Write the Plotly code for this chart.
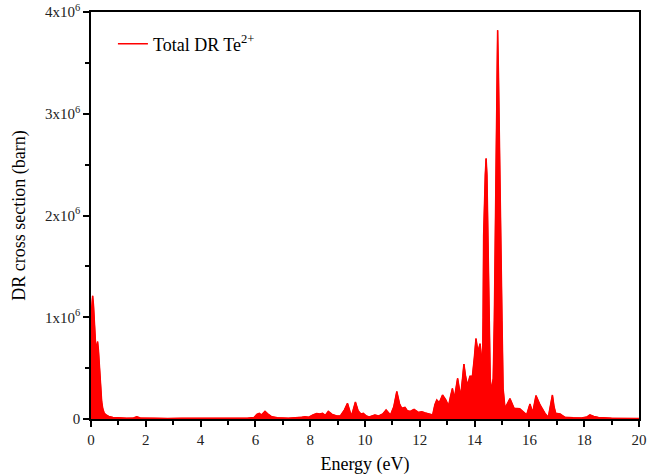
import plotly.graph_objects as go

# Energy (eV) and total DR cross section (units of 1e6 barn)
energy = [
    0.00, 0.03, 0.06, 0.09, 0.13, 0.17, 0.20, 0.24, 0.27, 0.31, 0.35, 0.39, 0.43, 0.48,
    0.55, 0.65, 0.80, 1.00, 1.30, 1.55, 1.67, 1.80, 2.20, 2.80, 3.30, 3.80, 4.30, 4.60,
    5.20, 5.70, 5.95, 6.05, 6.14, 6.22, 6.35, 6.45, 6.60, 6.80, 7.20, 7.50, 7.70, 7.81,
    7.95, 8.10, 8.24, 8.35, 8.45, 8.55, 8.66, 8.80, 8.97, 9.10, 9.25, 9.36, 9.45, 9.50,
    9.56, 9.65, 9.75, 9.85, 9.94, 10.05, 10.15, 10.36, 10.50, 10.65, 10.77, 10.85, 10.93,
    11.05, 11.16, 11.26, 11.34, 11.46, 11.55, 11.65, 11.79, 11.95, 12.07, 12.20, 12.37,
    12.47, 12.55, 12.62, 12.71, 12.83, 12.95, 13.05, 13.12, 13.19, 13.26, 13.32, 13.38,
    13.44, 13.49, 13.56, 13.61, 13.67, 13.74, 13.83, 13.92, 13.99, 14.05, 14.10, 14.14,
    14.20, 14.25, 14.29, 14.31, 14.33, 14.39, 14.42, 14.45, 14.48, 14.53, 14.57, 14.61,
    14.68, 14.72, 14.75, 14.81, 14.84, 14.87, 14.94, 15.00, 15.04, 15.11, 15.29, 15.38,
    15.44, 15.65, 15.80, 15.90, 16.02, 16.12, 16.24, 16.39, 16.57, 16.69, 16.76, 16.84,
    16.90, 16.96, 17.12, 17.30, 17.60, 17.90, 18.10, 18.21, 18.35, 18.52, 19.00, 19.50,
    20.00,
]
cross_section = [
    1.00, 1.18, 1.21, 1.12, 0.90, 0.72, 0.70, 0.76, 0.68, 0.48, 0.30, 0.17, 0.10, 0.06,
    0.04, 0.025, 0.015, 0.010, 0.008, 0.010, 0.022, 0.010, 0.006, 0.005, 0.007, 0.006,
    0.012, 0.006, 0.006, 0.008, 0.015, 0.045, 0.056, 0.040, 0.076, 0.050, 0.022, 0.012,
    0.008, 0.010, 0.018, 0.022, 0.018, 0.040, 0.055, 0.050, 0.055, 0.035, 0.075, 0.045,
    0.030, 0.030, 0.090, 0.154, 0.060, 0.030, 0.080, 0.167, 0.080, 0.050, 0.055, 0.030,
    0.020, 0.040, 0.030, 0.050, 0.090, 0.060, 0.040, 0.120, 0.270, 0.150, 0.105, 0.115,
    0.080, 0.075, 0.095, 0.065, 0.072, 0.060, 0.046, 0.040, 0.140, 0.187, 0.160, 0.236,
    0.187, 0.128, 0.220, 0.300, 0.200, 0.300, 0.400, 0.300, 0.220, 0.400, 0.540, 0.420,
    0.330, 0.420, 0.420, 0.600, 0.790, 0.700, 0.680, 0.740, 0.600, 0.510, 1.000, 1.800,
    2.400, 2.560, 2.400, 1.800, 0.970, 0.400, 0.270, 0.400, 0.970, 1.800, 3.400, 3.820,
    3.400, 1.800, 0.970, 0.300, 0.105, 0.200, 0.130, 0.105, 0.100, 0.060, 0.040, 0.147,
    0.062, 0.230, 0.138, 0.055, 0.017, 0.120, 0.236, 0.120, 0.056, 0.050, 0.017, 0.012,
    0.010, 0.020, 0.040, 0.025, 0.015, 0.008, 0.006, 0.005,
]
sigma_barn = [v * 1e6 for v in cross_section]

x_ticks = [0, 2, 4, 6, 8, 10, 12, 14, 16, 18, 20]
y_ticks = [0, 1e6, 2e6, 3e6, 4e6]
y_tick_text = ["0", "1x10<sup>6</sup>", "2x10<sup>6</sup>", "3x10<sup>6</sup>", "4x10<sup>6</sup>"]

series_name = "Total DR Te<sup>2+</sup>"
red = "#ff0000"
font_family = "Liberation Serif, Times New Roman, serif"

fig = go.Figure()
fig.add_trace(go.Scatter(
    x=energy, y=sigma_barn, mode="lines", fill="tozeroy",
    fillcolor=red, line=dict(color=red, width=1), showlegend=False,
    hoverinfo="skip",
))
fig.add_trace(go.Scatter(
    x=energy, y=sigma_barn, mode="lines", name=series_name,
    line=dict(color=red, width=1.5), showlegend=True,
))

axis_common = dict(
    showline=True, linecolor="black", linewidth=1.5, mirror=True,
    ticks="outside", tickcolor="black", tickwidth=1.5, ticklen=6,
    showgrid=False, zeroline=False, automargin=False,
    ticklabeloverflow="allow",
    tickfont=dict(family=font_family, size=15, color="#222222"),
)

fig.update_xaxes(
    range=[0, 20], tickvals=x_ticks,
    minor=dict(dtick=1, ticks="outside", ticklen=4, tickcolor="black", tickwidth=1.5),
    title=dict(text="Energy (eV)", font=dict(family=font_family, size=18, color="black")),
    **axis_common,
)
fig.update_yaxes(
    range=[0, 4e6], tickvals=y_ticks, ticktext=y_tick_text,
    minor=dict(dtick=0.5e6, ticks="outside", ticklen=4, tickcolor="black", tickwidth=1.5),
    title=dict(text="DR cross section (barn)", font=dict(family=font_family, size=18, color="black")),
    **axis_common,
)

fig.update_layout(
    width=671, height=475,
    margin=dict(l=91, r=32, t=12, b=56),
    plot_bgcolor="white", paper_bgcolor="white",
    font=dict(family=font_family, color="black"),
    legend=dict(
        x=0.04, y=0.921, xanchor="left", yanchor="middle",
        bgcolor="rgba(0,0,0,0)", borderwidth=0,
        font=dict(family=font_family, size=18, color="black"),
    ),
)

# remove the browser's default 8px page margin so the figure sits at the window corner
fig.write_html(
    "out.html",
    config={"displayModeBar": False},
    post_script="document.body.style.margin='0';",
)
